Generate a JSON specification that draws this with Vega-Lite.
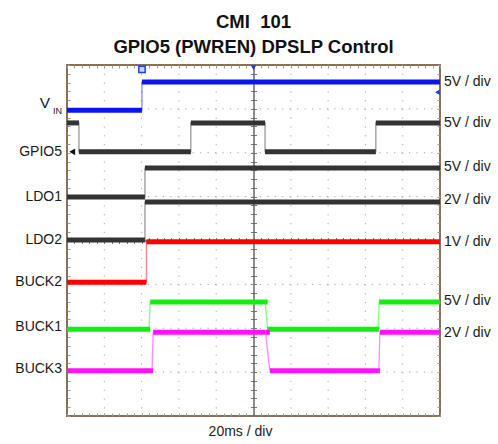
{
  "$schema": "https://vega.github.io/schema/vega-lite/v6.json",
  "width": 373,
  "height": 351,
  "autosize": {"type": "none"},
  "padding": {"left": 67, "top": 65, "right": 58, "bottom": 28},
  "background": "white",
  "title": {
    "text": ["CMI\u00a0\u00a0101", "GPIO5 (PWREN) DPSLP Control"],
    "fontSize": 18.5,
    "font": "Liberation Sans",
    "fontWeight": "bold",
    "color": "#111111",
    "lineHeight": 25,
    "anchor": "middle",
    "frame": "group",
    "offset": 7
  },
  "config": {
    "view": {"stroke": "#8a6e55", "strokeWidth": 2},
    "text": {"font": "Liberation Sans"}
  },
  "datasets": {
    "traces": [
      {"s": "VIN", "i": 0, "t": 0, "v": 6.97},
      {"s": "VIN", "i": 1, "t": 2.01, "v": 6.97},
      {"s": "VIN", "i": 2, "t": 2.01, "v": 7.61},
      {"s": "VIN", "i": 3, "t": 10, "v": 7.61},
      {"s": "GPIO5", "i": 0, "t": 0, "v": 6.68},
      {"s": "GPIO5", "i": 1, "t": 0.32, "v": 6.68},
      {"s": "GPIO5", "i": 2, "t": 0.32, "v": 6.02},
      {"s": "GPIO5", "i": 3, "t": 3.32, "v": 6.02},
      {"s": "GPIO5", "i": 4, "t": 3.32, "v": 6.68},
      {"s": "GPIO5", "i": 5, "t": 5.31, "v": 6.68},
      {"s": "GPIO5", "i": 6, "t": 5.31, "v": 6.02},
      {"s": "GPIO5", "i": 7, "t": 8.28, "v": 6.02},
      {"s": "GPIO5", "i": 8, "t": 8.28, "v": 6.68},
      {"s": "GPIO5", "i": 9, "t": 10, "v": 6.68},
      {"s": "LDO1", "i": 0, "t": 0, "v": 4.99},
      {"s": "LDO1", "i": 1, "t": 2.09, "v": 4.99},
      {"s": "LDO1", "i": 2, "t": 2.09, "v": 5.65},
      {"s": "LDO1", "i": 3, "t": 10, "v": 5.65},
      {"s": "LDO2", "i": 0, "t": 0, "v": 4.01},
      {"s": "LDO2", "i": 1, "t": 2.09, "v": 4.01},
      {"s": "LDO2", "i": 2, "t": 2.09, "v": 4.88},
      {"s": "LDO2", "i": 3, "t": 10, "v": 4.88},
      {"s": "BUCK2", "i": 0, "t": 0, "v": 3.05},
      {"s": "BUCK2", "i": 1, "t": 2.13, "v": 3.05},
      {"s": "BUCK2", "i": 2, "t": 2.13, "v": 3.97},
      {"s": "BUCK2", "i": 3, "t": 10, "v": 3.97},
      {"s": "BUCK1", "i": 0, "t": 0, "v": 1.98},
      {"s": "BUCK1", "i": 1, "t": 2.2, "v": 1.98},
      {"s": "BUCK1", "i": 2, "t": 2.23, "v": 2.6},
      {"s": "BUCK1", "i": 3, "t": 5.31, "v": 2.6},
      {"s": "BUCK1", "i": 4, "t": 5.38, "v": 1.98},
      {"s": "BUCK1", "i": 5, "t": 8.34, "v": 1.98},
      {"s": "BUCK1", "i": 6, "t": 8.37, "v": 2.6},
      {"s": "BUCK1", "i": 7, "t": 10, "v": 2.6},
      {"s": "BUCK3", "i": 0, "t": 0, "v": 1.03},
      {"s": "BUCK3", "i": 1, "t": 2.28, "v": 1.03},
      {"s": "BUCK3", "i": 2, "t": 2.31, "v": 1.91},
      {"s": "BUCK3", "i": 3, "t": 5.32, "v": 1.91},
      {"s": "BUCK3", "i": 4, "t": 5.44, "v": 1.03},
      {"s": "BUCK3", "i": 5, "t": 8.36, "v": 1.03},
      {"s": "BUCK3", "i": 6, "t": 8.39, "v": 1.91},
      {"s": "BUCK3", "i": 7, "t": 10, "v": 1.91}
    ]
  },
  "layer": [
    {
      "data": {"values": [{"g": 1}, {"g": 2}, {"g": 3}, {"g": 4}, {"g": 6}, {"g": 7}, {"g": 8}, {"g": 9}]},
      "mark": {"type": "rule", "color": "#a5a5a5", "strokeWidth": 1, "strokeDash": [1.2, 7.575]},
      "encoding": {
        "x": {"field": "g", "type": "quantitative", "scale": {"domain": [0, 10]}, "axis": null}
      }
    },
    {
      "data": {"values": [{"g": 1}, {"g": 2}, {"g": 3}, {"g": 5}, {"g": 6}, {"g": 7}]},
      "mark": {"type": "rule", "color": "#a5a5a5", "strokeWidth": 1, "strokeDash": [1.2, 6.26]},
      "encoding": {
        "y": {"field": "g", "type": "quantitative", "scale": {"domain": [0, 8]}, "axis": null}
      }
    },
    {
      "data": {"name": "traces"},
      "mark": {"type": "line", "strokeWidth": 1.3, "opacity": 0.5},
      "encoding": {
        "x": {"field": "t", "type": "quantitative", "scale": {"domain": [0, 10]},
          "axis": {"orient": "bottom", "tickCount": 50, "tickSize": -3, "tickColor": "#999999", "domain": false, "labels": false, "grid": false,
            "title": "20ms / div", "titleFontSize": 14, "titleFontWeight": "normal", "titleFont": "Liberation Sans", "titleColor": "#222222", "titlePadding": 8, "titleX": 173}},
        "y": {"field": "v", "type": "quantitative", "scale": {"domain": [0, 8]},
          "axis": {"orient": "left", "tickCount": 40, "tickSize": -3, "tickColor": "#999999", "domain": false, "labels": false, "grid": false, "title": null}},
        "color": {"field": "s", "type": "nominal",
          "scale": {"domain": ["VIN", "GPIO5", "LDO1", "LDO2", "BUCK2", "BUCK1", "BUCK3"],
                    "range": ["#0a14f0", "#333333", "#333333", "#333333", "#ff0000", "#11ee11", "#ff11ff"]},
          "legend": null},
        "order": {"field": "i", "type": "quantitative"}
      }
    },
    {
      "data": {"name": "traces"},
      "transform": [
        {"window": [{"op": "lead", "field": "t", "as": "t2"}], "groupby": ["s"], "sort": [{"field": "i"}]},
        {"filter": "datum.t2 != null"}
      ],
      "mark": {"type": "rule", "strokeWidth": 5, "strokeCap": "butt"},
      "encoding": {
        "x": {"field": "t", "type": "quantitative", "scale": {"domain": [0, 10]},
          "axis": {"orient": "top", "tickCount": 50, "tickSize": -3, "tickColor": "#999999", "domain": false, "labels": false, "grid": false, "title": null}},
        "x2": {"field": "t2"},
        "y": {"field": "v", "type": "quantitative", "scale": {"domain": [0, 8]},
          "axis": {"orient": "right", "tickCount": 40, "tickSize": -3, "tickColor": "#999999", "domain": false, "labels": false, "grid": false, "title": null}},
        "color": {"field": "s", "type": "nominal", "legend": null}
      }
    },
    {
      "data": {"values": [
        {"name": "GPIO5", "v": 6.02},
        {"name": "LDO1", "v": 4.99},
        {"name": "LDO2", "v": 4.01},
        {"name": "BUCK2", "v": 3.05},
        {"name": "BUCK1", "v": 2.03},
        {"name": "BUCK3", "v": 1.07}
      ]},
      "mark": {"type": "text", "align": "right", "baseline": "middle", "dx": -5, "fontSize": 14, "color": "#1a1a1a"},
      "encoding": {
        "x": {"datum": 0, "type": "quantitative", "scale": {"domain": [0, 10]},
          "axis": {"orient": "bottom", "offset": -175.5, "tickCount": 50, "tickSize": 3, "tickColor": "#777777", "domain": true, "domainColor": "#666666", "domainWidth": 1, "labels": false, "grid": false, "title": null}},
        "y": {"field": "v", "type": "quantitative", "scale": {"domain": [0, 8]},
          "axis": {"orient": "left", "offset": -186.5, "tickCount": 40, "tickSize": 3, "tickColor": "#777777", "domain": true, "domainColor": "#666666", "domainWidth": 1, "labels": false, "grid": false, "title": null}},
        "text": {"field": "name"}
      }
    },
    {
      "data": {"values": [
        {"scale": "5V / div", "v": 7.61},
        {"scale": "5V / div", "v": 6.68},
        {"scale": "5V / div", "v": 5.68},
        {"scale": "2V / div", "v": 4.93},
        {"scale": "1V / div", "v": 3.96},
        {"scale": "5V / div", "v": 2.61},
        {"scale": "2V / div", "v": 1.89}
      ]},
      "mark": {"type": "text", "align": "left", "baseline": "middle", "dx": 4, "fontSize": 14, "color": "#1a1a1a"},
      "encoding": {
        "x": {"datum": 10, "type": "quantitative", "scale": {"domain": [0, 10]},
          "axis": {"orient": "top", "offset": -175.5, "tickCount": 50, "tickSize": 3, "tickColor": "#777777", "domain": true, "domainColor": "#666666", "domainWidth": 1, "labels": false, "grid": false, "title": null}},
        "y": {"field": "v", "type": "quantitative", "scale": {"domain": [0, 8]},
          "axis": {"orient": "right", "offset": -186.5, "tickCount": 40, "tickSize": 3, "tickColor": "#777777", "domain": true, "domainColor": "#666666", "domainWidth": 1, "labels": false, "grid": false, "title": null}},
        "text": {"field": "scale"}
      }
    },
    {
      "data": {"values": [{"name": "V", "v": 7.13}]},
      "mark": {"type": "text", "align": "right", "baseline": "middle", "dx": -17, "fontSize": 15.5, "color": "#1a1a1a"},
      "encoding": {
        "x": {"datum": 0, "type": "quantitative", "scale": {"domain": [0, 10]}, "axis": null},
        "y": {"field": "v", "type": "quantitative", "scale": {"domain": [0, 8]}, "axis": null},
        "text": {"field": "name"}
      }
    },
    {
      "data": {"values": [{"name": "IN", "v": 6.95}]},
      "mark": {"type": "text", "align": "right", "baseline": "middle", "dx": -5, "fontSize": 9, "color": "#1a1a1a"},
      "encoding": {
        "x": {"datum": 0, "type": "quantitative", "scale": {"domain": [0, 10]}, "axis": null},
        "y": {"field": "v", "type": "quantitative", "scale": {"domain": [0, 8]}, "axis": null},
        "text": {"field": "name"}
      }
    },
    {
      "data": {"values": [
        {"m": "trigger", "t": 5, "v": 7.94},
        {"m": "level", "t": 9.93, "v": 7.38}
      ]},
      "mark": {"type": "point", "filled": true, "color": "#1a3cf0", "size": 30, "opacity": 1},
      "encoding": {
        "x": {"field": "t", "type": "quantitative", "scale": {"domain": [0, 10]}, "axis": null},
        "y": {"field": "v", "type": "quantitative", "scale": {"domain": [0, 8]}, "axis": null},
        "shape": {"field": "m", "type": "nominal", "scale": {"domain": ["trigger", "level"], "range": ["triangle-down", "triangle-left"]}, "legend": null}
      }
    },
    {
      "data": {"values": [{"m": "ch1", "t": 2.01, "v": 7.9}]},
      "mark": {"type": "point", "shape": "square", "filled": true, "fill": "#c8dcff", "stroke": "#1a3cf0", "strokeWidth": 1.5, "size": 40, "opacity": 1},
      "encoding": {
        "x": {"field": "t", "type": "quantitative", "scale": {"domain": [0, 10]}, "axis": null},
        "y": {"field": "v", "type": "quantitative", "scale": {"domain": [0, 8]}, "axis": null}
      }
    },
    {
      "data": {"values": [{"m": "gpio", "t": 0.14, "v": 6.02}]},
      "mark": {"type": "point", "shape": "triangle-left", "filled": true, "color": "#111111", "size": 45, "opacity": 1},
      "encoding": {
        "x": {"field": "t", "type": "quantitative", "scale": {"domain": [0, 10]}, "axis": null},
        "y": {"field": "v", "type": "quantitative", "scale": {"domain": [0, 8]}, "axis": null}
      }
    }
  ],
  "resolve": {"scale": {"x": "independent", "y": "independent"}}
}
